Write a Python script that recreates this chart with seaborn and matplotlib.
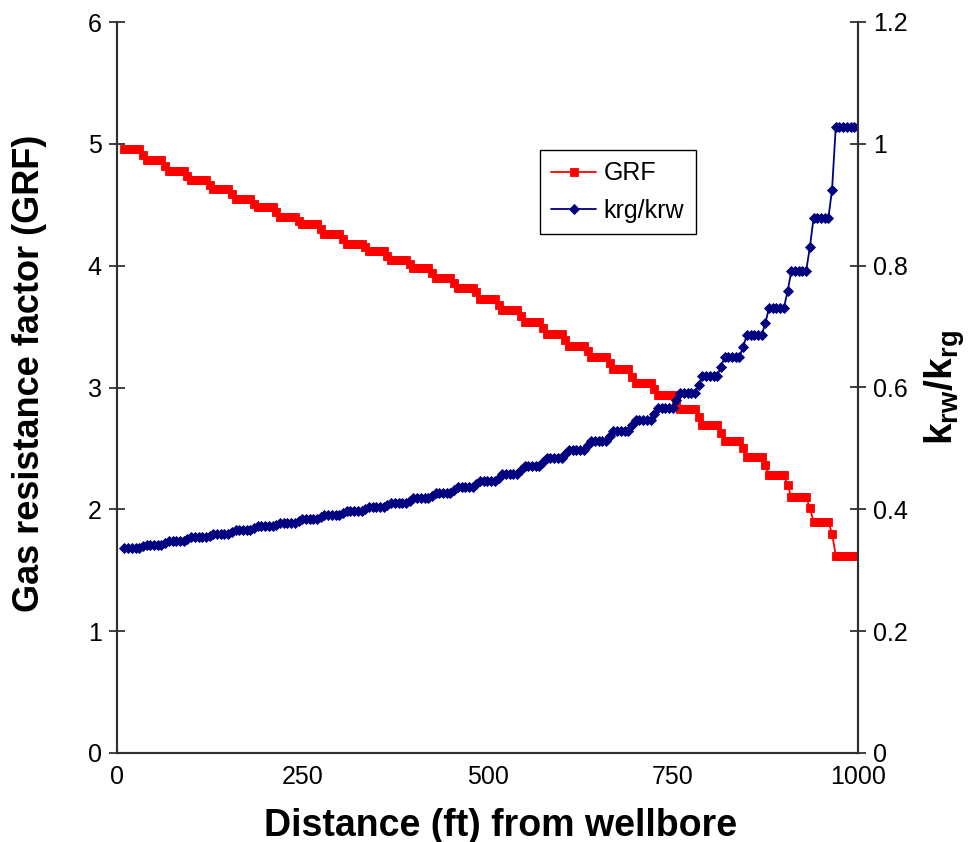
import matplotlib
matplotlib.use("Agg")
import matplotlib.pyplot as plt
import seaborn as sns
import pandas as pd
from matplotlib.ticker import FuncFormatter

# ---------------- data ----------------
distance_ft = list(range(10, 1005, 5))

grf = [
    4.96, 4.96, 4.96, 4.96, 4.96,
    4.91, 4.87, 4.87, 4.87, 4.87, 4.87,
    4.82, 4.78, 4.78, 4.78, 4.78, 4.78,
    4.74, 4.70, 4.70, 4.70, 4.70, 4.70,
    4.66, 4.63, 4.63, 4.63, 4.63, 4.63,
    4.59, 4.55, 4.55, 4.55, 4.55, 4.55,
    4.51, 4.48, 4.48, 4.48, 4.48, 4.48,
    4.44, 4.40, 4.40, 4.40, 4.40, 4.40,
    4.37, 4.34, 4.34, 4.34, 4.34, 4.34,
    4.30, 4.26, 4.26, 4.26, 4.26, 4.26,
    4.22, 4.18, 4.18, 4.18, 4.18, 4.18,
    4.15, 4.12, 4.12, 4.12, 4.12, 4.12,
    4.08, 4.05, 4.05, 4.05, 4.05, 4.05,
    4.01, 3.98, 3.98, 3.98, 3.98, 3.98,
    3.94, 3.90, 3.90, 3.90, 3.90, 3.90,
    3.86, 3.82, 3.82, 3.82, 3.82, 3.82,
    3.78, 3.73, 3.73, 3.73, 3.73, 3.73,
    3.68, 3.64, 3.64, 3.64, 3.64, 3.64,
    3.59, 3.54, 3.54, 3.54, 3.54, 3.54,
    3.49, 3.44, 3.44, 3.44, 3.44, 3.44,
    3.39, 3.34, 3.34, 3.34, 3.34, 3.34,
    3.30, 3.25, 3.25, 3.25, 3.25, 3.25,
    3.20, 3.15, 3.15, 3.15, 3.15, 3.15,
    3.09, 3.04, 3.04, 3.04, 3.04, 3.04,
    2.99, 2.94, 2.94, 2.94, 2.94, 2.94,
    2.88, 2.82, 2.82, 2.82, 2.82, 2.82,
    2.76, 2.69, 2.69, 2.69, 2.69, 2.69,
    2.63, 2.56, 2.56, 2.56, 2.56, 2.56,
    2.50, 2.43, 2.43, 2.43, 2.43, 2.43,
    2.36, 2.28, 2.28, 2.28, 2.28, 2.28,
    2.20, 2.10, 2.10, 2.10, 2.10, 2.10,
    2.01, 1.90, 1.90, 1.90, 1.90, 1.90,
    1.80, 1.62, 1.62, 1.62, 1.62, 1.62, 1.62, 1.62,
]

krg_krw = [
    0.336, 0.336, 0.336, 0.336, 0.336,
    0.339, 0.342, 0.342, 0.342, 0.342, 0.342,
    0.345, 0.348, 0.348, 0.348, 0.348, 0.348,
    0.351, 0.354, 0.354, 0.354, 0.354, 0.354,
    0.357, 0.360, 0.360, 0.360, 0.360, 0.360,
    0.363, 0.366, 0.366, 0.366, 0.366, 0.366,
    0.369, 0.372, 0.372, 0.372, 0.372, 0.372,
    0.375, 0.378, 0.378, 0.378, 0.378, 0.378,
    0.381, 0.384, 0.384, 0.384, 0.384, 0.384,
    0.387, 0.391, 0.391, 0.391, 0.391, 0.391,
    0.394, 0.398, 0.398, 0.398, 0.398, 0.398,
    0.401, 0.404, 0.404, 0.404, 0.404, 0.404,
    0.407, 0.411, 0.411, 0.411, 0.411, 0.411,
    0.414, 0.418, 0.418, 0.418, 0.418, 0.418,
    0.422, 0.427, 0.427, 0.427, 0.427, 0.427,
    0.431, 0.436, 0.436, 0.436, 0.436, 0.436,
    0.441, 0.446, 0.446, 0.446, 0.446, 0.446,
    0.452, 0.458, 0.458, 0.458, 0.458, 0.458,
    0.464, 0.471, 0.471, 0.471, 0.471, 0.471,
    0.477, 0.484, 0.484, 0.484, 0.484, 0.484,
    0.491, 0.498, 0.498, 0.498, 0.498, 0.498,
    0.505, 0.512, 0.512, 0.512, 0.512, 0.512,
    0.520, 0.529, 0.529, 0.529, 0.529, 0.529,
    0.538, 0.547, 0.547, 0.547, 0.547, 0.547,
    0.557, 0.567, 0.567, 0.567, 0.567, 0.567,
    0.579, 0.591, 0.591, 0.591, 0.591, 0.591,
    0.604, 0.619, 0.619, 0.619, 0.619, 0.619,
    0.634, 0.650, 0.650, 0.650, 0.650, 0.650,
    0.667, 0.686, 0.686, 0.686, 0.686, 0.686,
    0.706, 0.731, 0.731, 0.731, 0.731, 0.731,
    0.758, 0.791, 0.791, 0.791, 0.791, 0.791,
    0.830, 0.878, 0.878, 0.878, 0.878, 0.878,
    0.925, 1.028, 1.028, 1.028, 1.028, 1.028, 1.028, 1.028,
]

x_ticks = [0, 250, 500, 750, 1000]
left_ticks = [0, 1, 2, 3, 4, 5, 6]
right_ticks = [0, 0.2, 0.4, 0.6, 0.8, 1.0, 1.2]

df = pd.DataFrame({"distance": distance_ft, "GRF": grf, "krg/krw": krg_krw})

# ---------------- style ----------------
sns.set_theme(style="white")
plt.rcParams["font.family"] = ["Liberation Sans", "DejaVu Sans"]
plt.rcParams["mathtext.fontset"] = "custom"
plt.rcParams["mathtext.rm"] = "Liberation Sans"
plt.rcParams["mathtext.bf"] = "Liberation Sans:bold"
plt.rcParams["mathtext.it"] = "Liberation Sans:italic"
plt.rcParams["text.color"] = "black"
plt.rcParams["axes.labelcolor"] = "black"

fig = plt.figure(figsize=(9.70, 8.42), dpi=100)
ax = fig.add_axes([117 / 970, 1 - 753 / 842, (858 - 117) / 970, (753 - 22) / 842])
ax2 = ax.twinx()

red = "#FF0000"
navy = "#000080"

sns.lineplot(data=df, x="distance", y="GRF", ax=ax, color=red, marker="s",
             markersize=5.6, markeredgecolor=red, markeredgewidth=0.6,
             linewidth=1.3, label="GRF", legend=False)
sns.lineplot(data=df, x="distance", y="krg/krw", ax=ax2, color=navy, marker="D",
             markersize=4.6, markeredgecolor=navy, markeredgewidth=0.6,
             linewidth=1.3, label="krg/krw", legend=False)

ax.set_xlim(0, 1000)
ax.set_ylim(0, 6)
ax2.set_ylim(0, 1.2)
ax.set_xticks(x_ticks)
ax.set_yticks(left_ticks)
ax2.set_yticks(right_ticks)
ax2.yaxis.set_major_formatter(FuncFormatter(lambda v, _: f"{v:g}"))

axis_col = "#303030"
for a in (ax, ax2):
    for s in a.spines.values():
        s.set_color(axis_col)
        s.set_linewidth(1.5)
    a.spines["top"].set_visible(False)
    a.tick_params(direction="inout", length=12, width=1.3, color=axis_col,
                  labelsize=18, labelcolor="black")
ax.tick_params(axis="x", pad=3)
ax.tick_params(axis="y", pad=5)
ax2.tick_params(axis="y", pad=5)

ax.set_xlabel("Distance (ft) from wellbore", fontsize=27, fontweight="bold",
              color="black")
ax.xaxis.set_label_coords((501 - 117) / 741, -0.075)
ax.set_ylabel("Gas resistance factor (GRF)", fontsize=26, fontweight="bold",
              color="black")
ax.yaxis.set_label_coords(-0.095, 0.52)
ax2.set_ylabel(r"$\mathbf{k_{rw}/k_{rg}}$", fontsize=28, labelpad=10, color="black")

h1, l1 = ax.get_legend_handles_labels()
h2, l2 = ax2.get_legend_handles_labels()
leg = ax2.legend(h1 + h2, l1 + l2, loc="upper left",
                 bbox_to_anchor=(540 / 970, 1 - 150 / 842),
                 bbox_transform=fig.transFigure, fontsize=18, frameon=True,
                 fancybox=False, edgecolor="black", framealpha=1,
                 handlelength=1.8, handletextpad=0.3, borderpad=0.45,
                 labelspacing=0.55, borderaxespad=0)
leg.get_frame().set_linewidth(1.0)
for t in leg.get_texts():
    t.set_color("black")

fig.savefig("out.png", dpi=100)
